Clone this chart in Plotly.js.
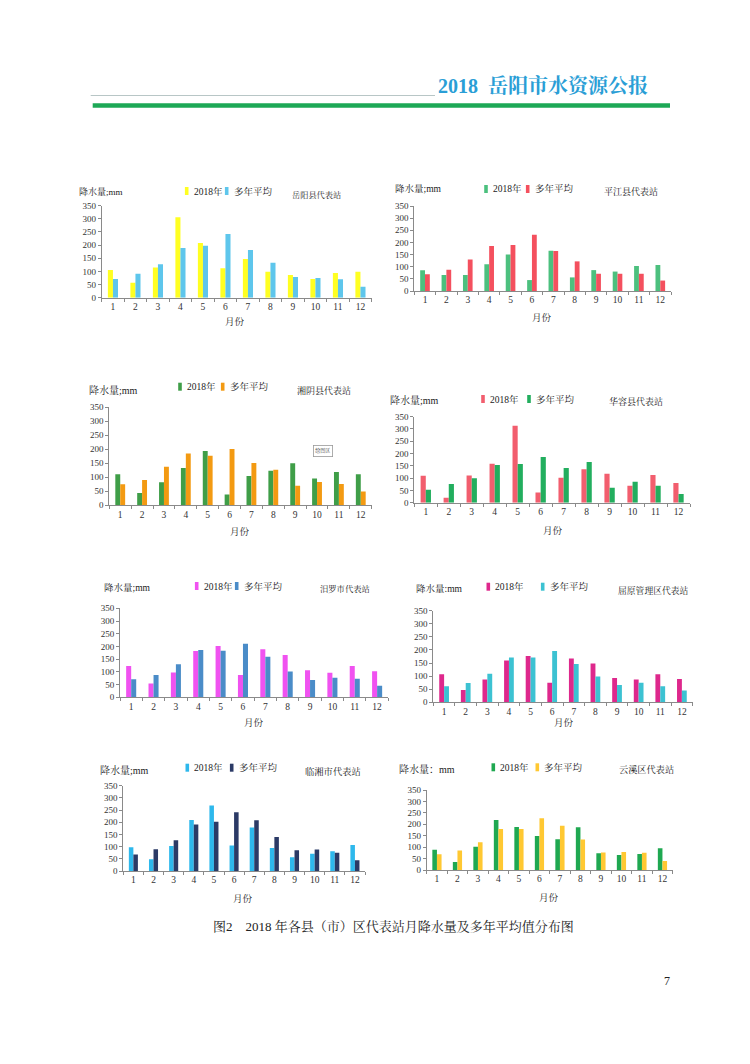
<!DOCTYPE html>
<html>
<head>
<meta charset="utf-8">
<script src="https://cdn.plot.ly/plotly-3.0.1.min.js"></script>
<style>
html,body{margin:0;padding:0;background:#fff;}
#chart{width:750px;height:1064px;}
</style>
</head>
<body>
<div id="chart"></div>
<script>
// ---------------- DATA ----------------
const months = ['1','2','3','4','5','6','7','8','9','10','11','12'];
const seriesNames = ['2018年', '多年平均'];
const stationNames = ['岳阳县代表站','平江县代表站','湘阴县代表站','华容县代表站','汨罗市代表站','屈原管理区代表站','临湘市代表站','云溪区代表站'];
const yTitles = ['降水量;mm','降水量;mm','降水量;mm','降水量;mm','降水量;mm','降水量:mm','降水量;mm','降水量：mm'];
const xTitle = '月份';
const yTicks = [0,50,100,150,200,250,300,350];

const yueyang2018 = [105,57,115,306,208,112,147,99,86,71,94,99];
const yueyangAvg  = [71,91,127,189,198,242,181,133,79,75,70,42];
const pingjiang2018 = [85,66,66,110,150,45,166,56,86,80,103,107];
const pingjiangAvg  = [69,88,130,185,189,232,165,122,71,71,71,43];
const xiangyin2018 = [111,44,82,133,194,39,105,123,150,96,119,111];
const xiangyinAvg  = [75,90,138,185,177,201,151,127,70,83,76,49];
const huarong2018 = [110,20,111,159,313,42,102,136,118,69,113,80];
const huarongAvg  = [53,76,100,153,157,186,141,166,61,85,69,35];
const miluo2018 = [123,54,98,182,202,88,189,166,106,97,123,102];
const miluoAvg  = [71,88,130,186,183,211,159,101,68,77,73,45];
const quyuan2018 = [107,47,87,160,177,75,167,148,93,87,107,89];
const quyuanAvg  = [61,74,109,171,171,196,146,99,66,75,61,45];
const linxiang2018 = [97,48,103,209,269,105,178,94,56,71,81,107];
const linxiangAvg  = [68,89,126,191,202,241,208,139,85,88,75,44];
const yunxi2018 = [89,35,102,219,188,149,134,187,73,66,70,95];
const yunxiAvg  = [69,85,121,179,179,226,194,133,77,79,76,39];

const headerText = '2018  岳阳市水资源公报';
const captionText = '图2　2018 年各县（市）区代表站月降水量及多年平均值分布图';
const pageNumber = '7';

// ---------------- LAYOUT CONFIG (pixel boxes) ----------------
const W = 750, H = 1064;
const data2018 = [yueyang2018, pingjiang2018, xiangyin2018, huarong2018, miluo2018, quyuan2018, linxiang2018, yunxi2018];
const dataAvg  = [yueyangAvg, pingjiangAvg, xiangyinAvg, huarongAvg, miluoAvg, quyuanAvg, linxiangAvg, yunxiAvg];
const colors = [
  ['#FFFF22','#5EC6EC'],
  ['#4CC07E','#F4505E'],
  ['#3F9E48','#F39A12'],
  ['#F25E6E','#22AE5E'],
  ['#F052F0','#4A8CC8'],
  ['#DE288C','#3CC2D2'],
  ['#2EB8EC','#2B3A66'],
  ['#1FA851','#FFC832']
];
// plot boxes: left (axis x), right, top (value 350), bottom (value 0)
const boxes = [
  {l:101.7,r:371.7,t:205.7,b:297.7},
  {l:414.3,r:671,t:206,b:291},
  {l:109.3,r:371.7,t:407.3,b:505.3},
  {l:414.3,r:690,t:416.7,b:502.7},
  {l:120,r:388.3,t:608.3,b:697.3},
  {l:433.3,r:692.7,t:610.7,b:702.3},
  {l:123.3,r:365,t:785.7,b:871},
  {l:426.7,r:672.7,t:790,b:870}
];
// legend swatch positions [x1, x2, y]
const legendPos = [
  [186.7,226.7,191],[486,527.7,189],[180,222.7,386.7],[483,529,399],
  [196.7,236.7,586],[488.3,542.7,586.7],[187.3,231.7,767.7],[493.3,537.3,767.3]
];
const yTitlePos = [[77,191.7],[393,189],[86.7,390],[388,400],[101.7,587.7],[414,588.3],[98.3,770],[397.3,769.3]];
const yTitleSize = [9,9.5,10,10,9.5,9.5,10,10];
const stationPos = [[290,195],[601.7,191],[295,390],[606.7,401.7],[317.7,589],[616,590.7],[303.3,771.7],[616.7,769]];
const stationSize = [8.2,9,9,9,8.3,8.8,9.3,9.2];
const xTitlePos = [[235,321.7],[542,317.7],[240,531.7],[553,530.7],[254,722.3],[564,722.7],[243.3,898.3],[549.3,897.7]];

const FONT = 'Liberation Serif, Noto Serif CJK SC, Noto Sans CJK SC, serif';
const px = x => x / W;
const py = y => 1 - y / H;

const traces = [];
const layout = {
  width: W, height: H,
  margin: {l:0,r:0,t:0,b:0},
  paper_bgcolor: '#ffffff',
  plot_bgcolor: 'rgba(0,0,0,0)',
  showlegend: false,
  barmode: 'group',
  bargap: 0.55,
  bargroupgap: 0,
  font: {family: FONT, size: 9, color: '#333'},
  annotations: [],
  shapes: []
};

for (let i = 0; i < 8; i++) {
  const n = i + 1;
  const xa = n === 1 ? 'x' : 'x' + n;
  const ya = n === 1 ? 'y' : 'y' + n;
  const xk = n === 1 ? 'xaxis' : 'xaxis' + n;
  const yk = n === 1 ? 'yaxis' : 'yaxis' + n;
  const bx = boxes[i];
  traces.push({
    type: 'bar', x: months, y: data2018[i], name: seriesNames[0],
    marker: {color: colors[i][0], line: {width: 0}},
    xaxis: xa, yaxis: ya, hoverinfo: 'x+y'
  });
  traces.push({
    type: 'bar', x: months, y: dataAvg[i], name: seriesNames[1],
    marker: {color: colors[i][1], line: {width: 0}},
    xaxis: xa, yaxis: ya, hoverinfo: 'x+y'
  });
  layout[xk] = {
    domain: [px(bx.l), px(bx.r)],
    anchor: ya,
    type: 'category',
    showline: true, linecolor: '#8a8a8a', linewidth: 1,
    ticks: 'outside', tickson: 'boundaries', ticklen: 3, tickcolor: '#8a8a8a',
    showgrid: false, zeroline: false,
    tickfont: {family: FONT, size: 9.5, color: '#333'},
    fixedrange: true
  };
  layout[yk] = {
    domain: [py(bx.b), py(bx.t)],
    anchor: xa,
    range: [0, 350],
    tickvals: yTicks,
    showline: true, linecolor: '#8a8a8a', linewidth: 1,
    ticks: 'outside', ticklen: 3, tickcolor: '#8a8a8a',
    showgrid: false, zeroline: false,
    tickfont: {family: FONT, size: 9, color: '#333'},
    fixedrange: true
  };
  // y title
  layout.annotations.push({
    xref: 'paper', yref: 'paper', x: px(yTitlePos[i][0]), y: py(yTitlePos[i][1]),
    xanchor: 'left', yanchor: 'middle', showarrow: false,
    text: yTitles[i], font: {family: FONT, size: yTitleSize[i], color: '#222'}
  });
  // station name
  layout.annotations.push({
    xref: 'paper', yref: 'paper', x: px(stationPos[i][0]), y: py(stationPos[i][1]),
    xanchor: 'left', yanchor: 'middle', showarrow: false,
    text: stationNames[i], font: {family: FONT, size: stationSize[i], color: '#222'}
  });
  // x title
  layout.annotations.push({
    xref: 'paper', yref: 'paper', x: px(xTitlePos[i][0]), y: py(xTitlePos[i][1]),
    xanchor: 'center', yanchor: 'middle', showarrow: false,
    text: xTitle, font: {family: FONT, size: 9.5, color: '#222'}
  });
  // legend
  const lp = legendPos[i];
  [0, 1].forEach(k => {
    const lx = lp[k];
    layout.shapes.push({
      type: 'rect', xref: 'paper', yref: 'paper',
      x0: px(lx - 1.8), x1: px(lx + 1.8), y0: py(lp[2] + 4), y1: py(lp[2] - 4),
      fillcolor: colors[i][k], line: {width: 0}
    });
    layout.annotations.push({
      xref: 'paper', yref: 'paper', x: px(lx + 5), y: py(lp[2]),
      xanchor: 'left', yanchor: 'middle', showarrow: false,
      text: seriesNames[k], font: {family: FONT, size: 9.5, color: '#222'}
    });
  });
}

// small "绘图区" tag in the 湘阴 chart
layout.annotations.push({
  xref: 'paper', yref: 'paper', x: px(323), y: py(451),
  xanchor: 'center', yanchor: 'middle', showarrow: false,
  text: '绘图区', font: {family: FONT, size: 5, color: '#555'},
  bordercolor: '#999', borderwidth: 0.8, borderpad: 1.5, bgcolor: '#fff'
});

// header
layout.annotations.push({
  xref: 'paper', yref: 'paper', x: px(436), y: py(86),
  xanchor: 'left', yanchor: 'middle', showarrow: false,
  text: '<b>' + headerText + '</b>', font: {family: FONT, size: 20, color: '#2A9ED6'}
});
layout.shapes.push({
  type: 'line', xref: 'paper', yref: 'paper',
  x0: px(90.7), x1: px(435), y0: py(95.5), y1: py(95.5),
  line: {color: '#B8C6C6', width: 1}
});
layout.shapes.push({
  type: 'line', xref: 'paper', yref: 'paper',
  x0: px(92.7), x1: px(670), y0: py(105.5), y1: py(105.5),
  line: {color: '#1DA856', width: 4.4}
});
// caption
layout.annotations.push({
  xref: 'paper', yref: 'paper', x: px(393), y: py(926.7),
  xanchor: 'center', yanchor: 'middle', showarrow: false,
  text: captionText, font: {family: FONT, size: 13, color: '#222'}
});
// page number
layout.annotations.push({
  xref: 'paper', yref: 'paper', x: px(667), y: py(981),
  xanchor: 'center', yanchor: 'middle', showarrow: false,
  text: pageNumber, font: {family: FONT, size: 12, color: '#222'}
});

Plotly.newPlot('chart', traces, layout, {staticPlot: true, displayModeBar: false});
</script>
</body>
</html>
